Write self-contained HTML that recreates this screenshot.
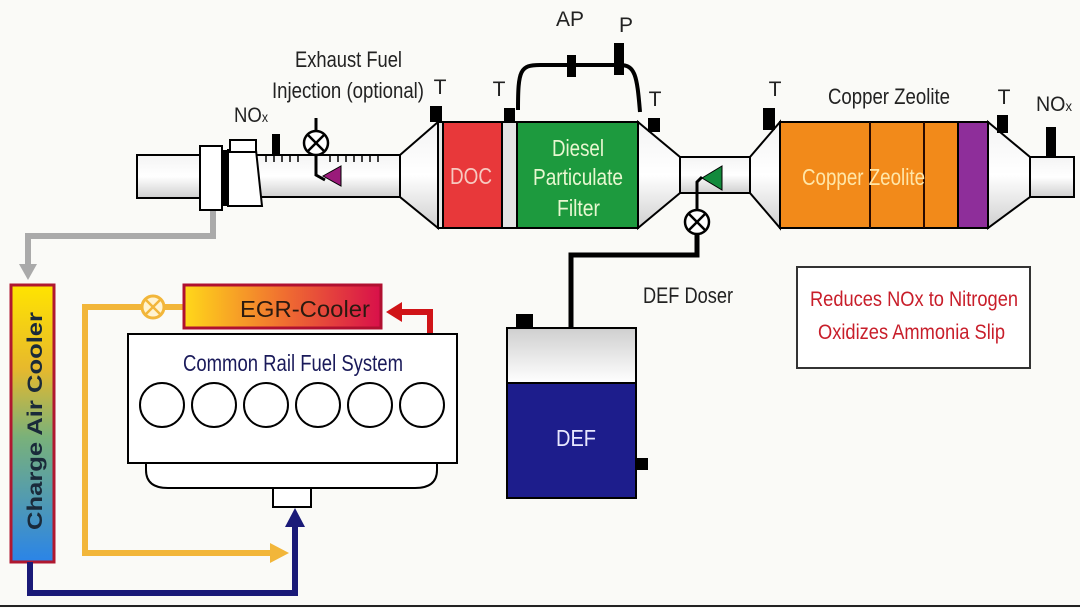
<!DOCTYPE html>
<html><head><meta charset="utf-8"><style>
html,body{margin:0;padding:0;background:#fafaf7;}
svg{display:block;font-family:"Liberation Sans",Arial,sans-serif;}
</style></head><body>
<svg width="1080" height="608" viewBox="0 0 1080 608" xmlns="http://www.w3.org/2000/svg">
<defs>
<linearGradient id="pipe" x1="0" y1="0" x2="0" y2="1">
<stop offset="0" stop-color="#f4f4f4"/><stop offset="0.5" stop-color="#ffffff"/><stop offset="1" stop-color="#cfcfcf"/></linearGradient>
<linearGradient id="cac" x1="0" y1="0" x2="0" y2="1">
<stop offset="0" stop-color="#ffe400"/><stop offset="0.3" stop-color="#e7b92c"/><stop offset="0.55" stop-color="#79b17a"/><stop offset="1" stop-color="#2a84e8"/></linearGradient>
<linearGradient id="egr" x1="0" y1="0" x2="1" y2="0">
<stop offset="0" stop-color="#ffd81a"/><stop offset="0.5" stop-color="#f07030"/><stop offset="1" stop-color="#d8104a"/></linearGradient>
<linearGradient id="tank" x1="0" y1="0" x2="0" y2="1">
<stop offset="0" stop-color="#cfcfcf"/><stop offset="1" stop-color="#ffffff"/></linearGradient>
</defs>
<rect width="1080" height="608" fill="#fafaf7"/>
<line x1="0" y1="606" x2="1080" y2="606" stroke="#222" stroke-width="2"/>

<polyline points="213,208 213,236 28,236 28,268" fill="none" stroke="#aaa" stroke-width="6"/>
<polygon points="19,264 37,264 28,280" fill="#aaa"/>

<rect x="137" y="155" width="70" height="43" fill="url(#pipe)" stroke="#000" stroke-width="2"/>
<rect x="256" y="155" width="146" height="42" fill="url(#pipe)" stroke="#000" stroke-width="2"/>
<g stroke="#000" stroke-width="1.5">
<line x1="266" y1="156" x2="266" y2="162"/><line x1="274" y1="156" x2="274" y2="162"/><line x1="282" y1="156" x2="282" y2="162"/><line x1="290" y1="156" x2="290" y2="162"/><line x1="298" y1="156" x2="298" y2="162"/><line x1="330" y1="156" x2="330" y2="162"/><line x1="338" y1="156" x2="338" y2="162"/><line x1="346" y1="156" x2="346" y2="162"/><line x1="354" y1="156" x2="354" y2="162"/><line x1="362" y1="156" x2="362" y2="162"/><line x1="370" y1="156" x2="370" y2="162"/><line x1="378" y1="156" x2="378" y2="162"/></g>
<rect x="200" y="146" width="22" height="64" fill="#fff" stroke="#000" stroke-width="2"/>
<rect x="222" y="150" width="6" height="56" fill="#000"/>
<polygon points="228,150 256,150 262,206 228,206" fill="#fff" stroke="#000" stroke-width="2"/>
<rect x="230" y="140" width="26" height="12" fill="#fff" stroke="#000" stroke-width="2"/>
<rect x="272" y="134" width="8" height="22" fill="#000"/>
<text x="234" y="122" font-size="21" fill="#222" textLength="34" lengthAdjust="spacingAndGlyphs">NO<tspan font-size="14">x</tspan></text>

<line x1="316" y1="118" x2="316" y2="131" stroke="#000" stroke-width="3"/>
<circle cx="316" cy="143" r="12" fill="#fff" stroke="#000" stroke-width="2.5"/>
<line x1="308" y1="135" x2="324" y2="151" stroke="#000" stroke-width="2.5"/><line x1="324" y1="135" x2="308" y2="151" stroke="#000" stroke-width="2.5"/>
<polyline points="316,155 316,175 325,180" fill="none" stroke="#000" stroke-width="3"/>
<polygon points="323,176 341,166 341,186" fill="#9a1a7a" stroke="#000" stroke-width="1"/>
<text x="295" y="67" font-size="22" fill="#222" textLength="107" lengthAdjust="spacingAndGlyphs">Exhaust Fuel</text>
<text x="272" y="98" font-size="22" fill="#222" textLength="152" lengthAdjust="spacingAndGlyphs">Injection (optional)</text>

<polygon points="400,155 438,122 438,228 400,197" fill="url(#pipe)" stroke="#000" stroke-width="2"/>
<rect x="438" y="122" width="200" height="106" fill="#e6e6e6" stroke="#000" stroke-width="2"/>
<rect x="443" y="122" width="59" height="106" fill="#e8383a" stroke="#000" stroke-width="2"/>
<rect x="502" y="122" width="15" height="106" fill="#e4e4e4" stroke="#000" stroke-width="2"/>
<rect x="517" y="122" width="121" height="106" fill="#1d9a3e" stroke="#000" stroke-width="2"/>
<text x="450" y="184" font-size="23" fill="#f7c9c0" textLength="42" lengthAdjust="spacingAndGlyphs">DOC</text>
<text x="552" y="156" font-size="23" fill="#e7f7d0" textLength="52" lengthAdjust="spacingAndGlyphs">Diesel</text>
<text x="533" y="185" font-size="23" fill="#e7f7d0" textLength="90" lengthAdjust="spacingAndGlyphs">Particulate</text>
<text x="557" y="216" font-size="23" fill="#e7f7d0" textLength="43" lengthAdjust="spacingAndGlyphs">Filter</text>
<polygon points="638,122 680,157 680,193 638,228" fill="url(#pipe)" stroke="#000" stroke-width="2"/>
<rect x="430" y="106" width="12" height="16" fill="#000"/><text x="440" y="94" font-size="21" text-anchor="middle" fill="#222">T</text>
<rect x="504" y="108" width="11" height="14" fill="#000"/><text x="499" y="96" font-size="21" text-anchor="middle" fill="#222">T</text>
<rect x="648" y="118" width="12" height="14" fill="#000"/><text x="655" y="106" font-size="21" text-anchor="middle" fill="#222">T</text>
<path d="M518,110 C518,70 520,65 540,65 L620,65 C635,65 637,75 640,112" fill="none" stroke="#000" stroke-width="4"/>
<rect x="567" y="55" width="9" height="22" fill="#000"/>
<rect x="614" y="43" width="10" height="32" fill="#000"/>
<text x="570" y="26" font-size="21" text-anchor="middle" fill="#222">AP</text>
<text x="626" y="32" font-size="21" text-anchor="middle" fill="#222">P</text>

<rect x="680" y="157" width="70" height="36" fill="url(#pipe)" stroke="#000" stroke-width="2"/>
<polygon points="702,178 722,166 722,190" fill="#138a3c" stroke="#000" stroke-width="1"/>
<polyline points="697,210 697,182 702,177" fill="none" stroke="#000" stroke-width="3"/>
<circle cx="697" cy="222" r="12" fill="#fff" stroke="#000" stroke-width="2.5"/>
<line x1="689" y1="214" x2="705" y2="230" stroke="#000" stroke-width="2.5"/><line x1="705" y1="214" x2="689" y2="230" stroke="#000" stroke-width="2.5"/>
<polyline points="697,234 697,255 571,255 571,328" fill="none" stroke="#000" stroke-width="5"/>
<text x="643" y="303" font-size="22" fill="#222" textLength="90" lengthAdjust="spacingAndGlyphs">DEF Doser</text>

<polygon points="750,157 780,122 780,228 750,193" fill="url(#pipe)" stroke="#000" stroke-width="2"/>
<rect x="780" y="122" width="178" height="106" fill="#f28a1a" stroke="#000" stroke-width="2"/>
<line x1="870" y1="122" x2="870" y2="228" stroke="#2a0a00" stroke-width="2"/>
<line x1="924" y1="122" x2="924" y2="228" stroke="#2a0a00" stroke-width="2"/>
<rect x="958" y="122" width="30" height="106" fill="#8e2e9a" stroke="#000" stroke-width="2"/>
<polygon points="988,122 1030,157 1030,197 988,228" fill="url(#pipe)" stroke="#000" stroke-width="2"/>
<rect x="1030" y="157" width="44" height="40" fill="url(#pipe)" stroke="#000" stroke-width="2"/>
<text x="802" y="185" font-size="23" fill="#ffe6a8" textLength="123" lengthAdjust="spacingAndGlyphs">Copper Zeolite</text>
<text x="828" y="104" font-size="22" fill="#222" textLength="122" lengthAdjust="spacingAndGlyphs">Copper Zeolite</text>
<rect x="763" y="108" width="12" height="22" fill="#000"/><text x="775" y="96" font-size="21" text-anchor="middle" fill="#222">T</text>
<rect x="997" y="115" width="11" height="18" fill="#000"/><text x="1004" y="104" font-size="21" text-anchor="middle" fill="#222">T</text>
<rect x="1046" y="127" width="10" height="30" fill="#000"/>
<text x="1036" y="111" font-size="21" fill="#222" textLength="36" lengthAdjust="spacingAndGlyphs">NO<tspan font-size="14">x</tspan></text>

<rect x="797" y="267" width="233" height="101" fill="#fff" stroke="#333" stroke-width="2"/>
<text x="810" y="306" font-size="21" fill="#c81e2a" textLength="208" lengthAdjust="spacingAndGlyphs">Reduces NOx to Nitrogen</text>
<text x="818" y="339" font-size="21" fill="#c81e2a" textLength="187" lengthAdjust="spacingAndGlyphs">Oxidizes Ammonia Slip</text>

<rect x="516" y="314" width="17" height="15" fill="#000"/>
<rect x="507" y="328" width="129" height="55" fill="url(#tank)" stroke="#000" stroke-width="2"/>
<rect x="507" y="383" width="129" height="115" fill="#1d1d8c" stroke="#000" stroke-width="2"/>
<rect x="636" y="458" width="12" height="12" fill="#000"/>
<text x="556" y="446" font-size="23" fill="#e8e8ff" textLength="40" lengthAdjust="spacingAndGlyphs">DEF</text>

<rect x="11" y="285" width="43" height="277" fill="url(#cac)" stroke="#b01830" stroke-width="3"/>
<text transform="translate(42,530) rotate(-90)" font-size="21" font-weight="bold" fill="#1a2a3a" textLength="218" lengthAdjust="spacingAndGlyphs">Charge Air Cooler</text>

<polyline points="142,307 85,307 85,553 272,553" fill="none" stroke="#f2b63a" stroke-width="6"/>
<polygon points="270,543 289,553 270,563" fill="#f2b63a"/>
<line x1="165" y1="307" x2="184" y2="307" stroke="#f2b63a" stroke-width="6"/>
<circle cx="153" cy="307" r="11" fill="#fff3d0" stroke="#f2b63a" stroke-width="3"/>
<line x1="146" y1="300" x2="160" y2="314" stroke="#f2b63a" stroke-width="2.5"/><line x1="160" y1="300" x2="146" y2="314" stroke="#f2b63a" stroke-width="2.5"/>

<polyline points="30,562 30,593 295,593 295,525" fill="none" stroke="#1a1a78" stroke-width="6"/>
<polygon points="285,527 295,508 305,527" fill="#1a1a78"/>

<rect x="184" y="285" width="197" height="43" fill="url(#egr)" stroke="#b01030" stroke-width="3"/>
<text x="240" y="317" font-size="23" fill="#2a1a10" textLength="130" lengthAdjust="spacingAndGlyphs">EGR-Cooler</text>
<polyline points="430,334 430,312 400,312" fill="none" stroke="#d01418" stroke-width="6"/>
<polygon points="402,302 386,312 402,322" fill="#d01418"/>

<path d="M146,463 L437,463 L437,470 Q437,488 415,488 L168,488 Q146,488 146,470 Z" fill="#fff" stroke="#000" stroke-width="2"/>
<rect x="273" y="488" width="38" height="19" fill="#fff" stroke="#000" stroke-width="2"/>
<rect x="128" y="334" width="329" height="129" fill="#fff" stroke="#000" stroke-width="2"/>
<text x="183" y="371" font-size="23" fill="#1a1a5a" textLength="220" lengthAdjust="spacingAndGlyphs">Common Rail Fuel System</text>
<g fill="#fff" stroke="#000" stroke-width="2">
<circle cx="162" cy="405" r="22"/><circle cx="214" cy="405" r="22"/><circle cx="266" cy="405" r="22"/><circle cx="318" cy="405" r="22"/><circle cx="370" cy="405" r="22"/><circle cx="422" cy="405" r="22"/></g>
</svg>
</body></html>
